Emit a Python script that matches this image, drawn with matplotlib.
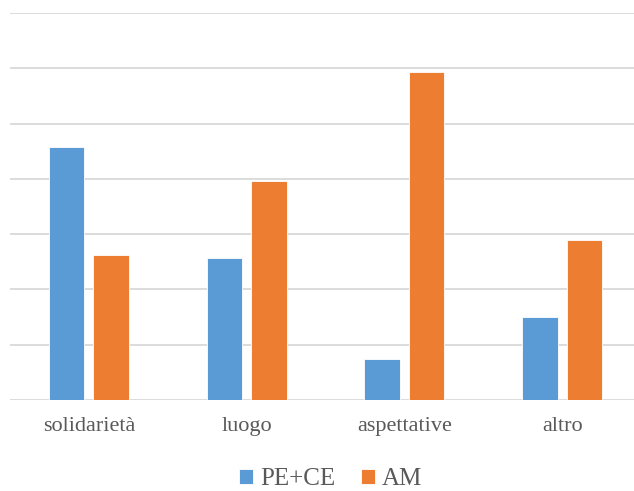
import matplotlib
matplotlib.use("Agg")
import matplotlib.pyplot as plt
import numpy as np

categories = ["solidarietà", "luogo", "aspettative", "altro"]
series_names = ["PE+CE", "AM"]
pe_ce = [22.9, 12.8, 3.7, 7.5]
am = [13.15, 19.8, 29.7, 14.5]
colors = ["#5B9BD5", "#ED7D31"]

plt.rcParams['font.family'] = ['Liberation Serif', 'DejaVu Serif']
text_color = "#595959"

fig = plt.figure(figsize=(6.34, 4.91), dpi=100)
ax = fig.add_axes([10/634, 1-400/491, 631/634, 387/491])
ax.set_xlim(-0.5, 3.5)
ax.set_ylim(0, 35)

x = np.arange(len(categories))
w = 0.224
off = 0.141
ax.bar(x - off, pe_ce, width=w, color=colors[0], edgecolor="white", linewidth=0.6, label=series_names[0], zorder=3)
ax.bar(x + off, am, width=w, color=colors[1], edgecolor="white", linewidth=0.6, label=series_names[1], zorder=3)

ax.set_yticks(np.arange(0, 36, 5))
ax.yaxis.grid(True, color="#d9d9d9", linewidth=1.3, zorder=0)
ax.set_axisbelow(True)
ax.tick_params(axis='y', left=False, labelleft=False)
ax.tick_params(axis='x', bottom=False, labelsize=16, labelcolor=text_color, pad=9)
ax.set_xticks(x)
ax.set_xticklabels(categories)
for s in ax.spines.values():
    s.set_visible(False)

fig.legend(ncol=2, loc='center', bbox_to_anchor=(0.522, 1-479/491), frameon=False,
           handlelength=0.55, handleheight=0.55, columnspacing=1.0, handletextpad=0.3,
           prop={'size': 18}, labelcolor=text_color)

fig.savefig("out.png", dpi=100)
